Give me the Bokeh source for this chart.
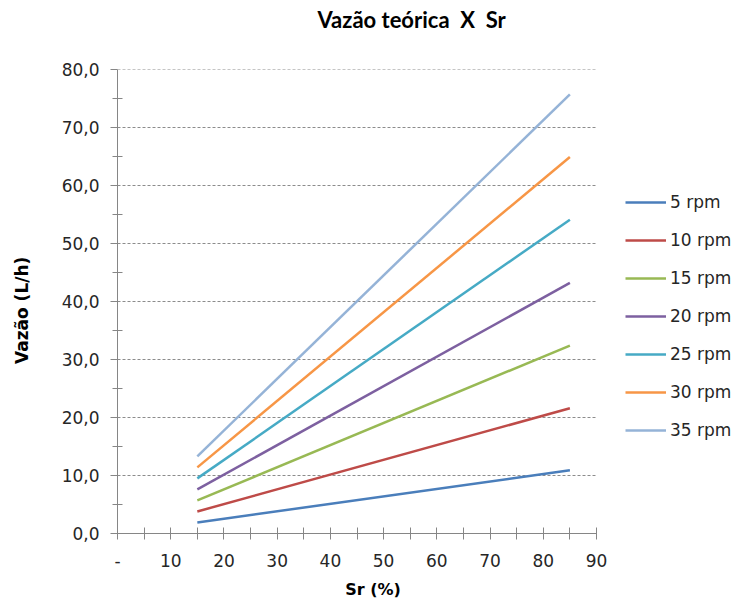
from bokeh.plotting import figure
from bokeh.models import Range1d, FixedTicker, Legend, LegendItem, LinearAxis
from bokeh.embed import file_html
from bokeh.resources import INLINE

# Data
sr = [15, 85]
series_names = ["5 rpm", "10 rpm", "15 rpm", "20 rpm", "25 rpm", "30 rpm", "35 rpm"]
rpm5 = [1.9, 10.9]
rpm10 = [3.8, 21.6]
rpm15 = [5.7, 32.4]
rpm20 = [7.6, 43.2]
rpm25 = [9.5, 54.1]
rpm30 = [11.4, 64.9]
rpm35 = [13.3, 75.7]
series_values = [rpm5, rpm10, rpm15, rpm20, rpm25, rpm30, rpm35]
colors = ["#4A7EBB", "#BE4B48", "#98B954", "#7D60A0", "#46AAC5", "#F79646", "#95B3D7"]

x_ticks = list(range(0, 95, 5))
x_tick_labels = ["-", "", "10", "", "20", "", "30", "", "40", "", "50", "", "60", "", "70", "", "80", "", "90"]
y_ticks = list(range(0, 90, 10))
y_tick_labels = ["0,0", "10,0", "20,0", "30,0", "40,0", "50,0", "60,0", "70,0", "80,0"]
y_minor = list(range(5, 80, 10))

X_MAX = 90
Y_MAX = 80

TICK_FONT = "DejaVu Sans"
TITLE_FONT = "Lato"
AXIS_COLOR = "#868686"
GRID_COLOR = "#8c8c8c"
TEXT_COLOR = "#262626"

W, H = 734, 606
LEFT, RIGHT_AXIS_PX, TOP, BOTTOM = 117, 596, 69, 73
frame_w = W - LEFT
x_end = X_MAX * frame_w / (RIGHT_AXIS_PX - LEFT)  # room on the right of the frame for the legend

p = figure(width=W, height=H, x_range=Range1d(0, x_end), y_range=Range1d(0, Y_MAX),
           output_backend="svg", toolbar_location=None,
           min_border_left=LEFT, min_border_right=0, min_border_top=TOP, min_border_bottom=BOTTOM)
p.outline_line_color = None
p.background_fill_color = "white"
p.border_fill_color = "white"

xax = p.below[0]
yax = p.left[0]

# invisible spacer (white tick in the empty top-right corner) between the frame and the title
SPACER_TICK = 105
spacer = LinearAxis(ticker=FixedTicker(ticks=[SPACER_TICK]), axis_line_color=None,
                    major_tick_line_color="white", minor_tick_line_color=None,
                    major_tick_in=0, major_tick_out=37, minor_tick_in=0, minor_tick_out=0,
                    major_label_overrides={SPACER_TICK: ""}, major_label_text_font_size="0px",
                    major_label_standoff=0)
p.add_layout(spacer, "above")

p.title.text = "Vazão teórica\u00a0\u00a0X\u00a0\u00a0Sr"
p.title.align = "left"
p.title.vertical_align = "bottom"
p.title.offset = 200
p.title.standoff = 0
p.title.text_font = TITLE_FONT
p.title.text_font_size = "22px"
p.title.text_font_style = "bold"
p.title.text_color = "#000000"

p.xgrid.visible = False
p.ygrid.visible = False

# horizontal dashed grid lines, only across the axis span
p.segment(x0=[0] * (len(y_ticks) - 1), x1=[X_MAX] * (len(y_ticks) - 1), y0=y_ticks[1:], y1=y_ticks[1:],
          line_color=GRID_COLOR, line_dash="3 2", line_width=1)

xax.ticker = FixedTicker(ticks=x_ticks)
xax.major_label_overrides = {t: l for t, l in zip(x_ticks, x_tick_labels)}
xax.bounds = (0, X_MAX)
xax.major_tick_in = 6
xax.major_tick_out = 6

yax.ticker = FixedTicker(ticks=y_ticks, minor_ticks=y_minor)
yax.major_label_overrides = {t: l for t, l in zip(y_ticks, y_tick_labels)}
yax.major_tick_in = 0
yax.major_tick_out = 7
yax.minor_tick_in = 5
yax.minor_tick_out = 5

for ax in (xax, yax):
    ax.axis_line_color = AXIS_COLOR
    ax.major_tick_line_color = AXIS_COLOR
    ax.major_label_text_font = TICK_FONT
    ax.major_label_text_font_size = "17px"
    ax.major_label_text_color = TEXT_COLOR
    ax.axis_label_text_font = TICK_FONT
    ax.axis_label_text_font_style = "bold"
    ax.axis_label_text_color = "#000000"
xax.minor_tick_line_color = None
yax.minor_tick_line_color = AXIS_COLOR

xax.axis_label = "Sr (%)" + "\u00a0" * 19   # centred under the axis span, not the whole frame
xax.axis_label_text_font_size = "16px"
xax.major_label_standoff = 14
xax.axis_label_standoff = 10

yax.axis_label = "Vazão (L/h)\u00a0\u00a0\u00a0"
yax.axis_label_text_font_size = "17px"
yax.major_label_standoff = 11
yax.axis_label_standoff = 27

items = []
for name, vals, c in zip(series_names, series_values, colors):
    r = p.line(sr, vals, line_color=c, line_width=2.5)
    items.append(LegendItem(label=name, renderers=[r]))

legend = Legend(items=items, location=(508, 93))
legend.border_line_color = None
legend.background_fill_alpha = 0
legend.padding = 0
legend.margin = 0
legend.spacing = 18
legend.label_height = 20
legend.glyph_height = 20
legend.glyph_width = 41
legend.label_standoff = 4
legend.label_text_font = TICK_FONT
legend.label_text_font_size = "17px"
legend.label_text_color = TEXT_COLOR
p.add_layout(legend, "center")

open("out.html", "w").write(file_html(p, INLINE))
